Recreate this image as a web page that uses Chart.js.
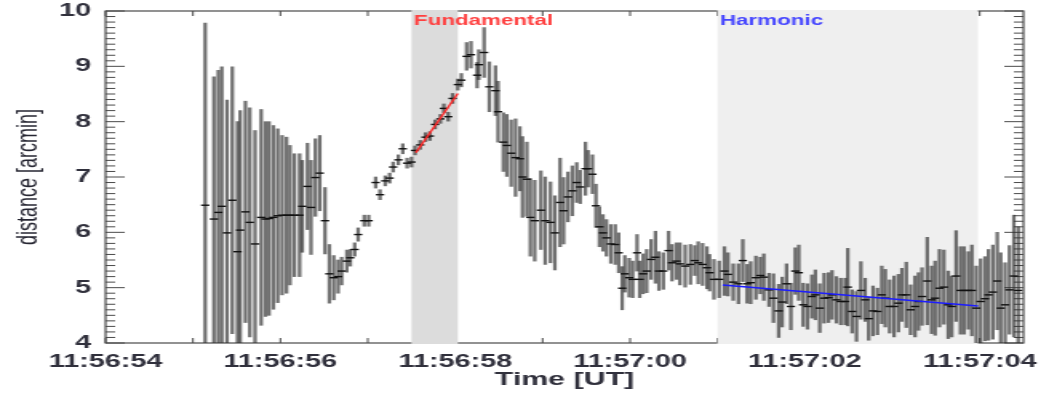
<!DOCTYPE html>
<html>
<head>
<meta charset="utf-8">
<title>distance vs time</title>
<script src="https://cdn.jsdelivr.net/npm/chart.js@4.4.1/dist/chart.umd.min.js"></script>
<style>
  html, body { margin: 0; padding: 0; background: #fff; }
  /* the figure is drawn narrow and stretched sideways, like the original */
  #chart { display: block; width: 1041px !important; height: 393px !important; }
</style>
</head>
<body>
<canvas id="chart" width="651" height="393" style="width:1041px;height:393px"></canvas>
<script>
// time in seconds after 11:56:00 UT
var timeSec = [
    55.14, 55.24, 55.29, 55.33, 55.39, 55.45, 55.51, 55.54, 55.60, 55.65,
    55.71, 55.78, 55.83, 55.87, 55.92, 55.97, 56.02, 56.07, 56.11, 56.16,
    56.22, 56.25, 56.31, 56.35, 56.40, 56.45, 56.51, 56.56, 56.61, 56.66,
    56.70, 56.76, 56.80, 56.85, 56.89, 56.96, 57.01, 57.09, 57.14, 57.20,
    57.25, 57.29, 57.35, 57.40, 57.45, 57.50, 57.54, 57.60, 57.66, 57.71,
    57.77, 57.83, 57.87, 57.92, 57.97, 58.03, 58.07, 58.13, 58.18, 58.25,
    58.27, 58.33, 58.39, 58.46, 58.49, 58.55, 58.59, 58.64, 58.69, 58.74,
    58.77, 58.82, 58.86, 58.91, 58.98, 59.03, 59.09, 59.14, 59.20, 59.24,
    59.29, 59.34, 59.39, 59.43, 59.49, 59.52, 59.57, 59.61, 59.65, 59.69,
    59.73, 59.78, 59.83, 59.87, 59.91, 59.94, 59.99, 60.03, 60.08, 60.11,
    60.15, 60.19, 60.24, 60.29, 60.33, 60.38, 60.44, 60.48, 60.53, 60.57,
    60.63, 60.69, 60.74, 60.78, 60.83, 60.88, 60.91, 60.96, 61.02, 61.08,
    61.12, 61.18, 61.24, 61.29, 61.34, 61.38, 61.44, 61.49, 61.53, 61.59,
    61.64, 61.70, 61.74, 61.79, 61.84, 61.89, 61.93, 61.98, 62.03, 62.08,
    62.12, 62.17, 62.22, 62.27, 62.31, 62.36, 62.41, 62.46, 62.49, 62.54,
    62.59, 62.64, 62.69, 62.73, 62.78, 62.83, 62.88, 62.92, 62.97, 63.02,
    63.07, 63.11, 63.16, 63.21, 63.26, 63.30, 63.34, 63.40, 63.45, 63.49,
    63.54, 63.59, 63.64, 63.68, 63.73, 63.78, 63.82, 63.87, 63.91, 63.96,
    64.01, 64.06, 64.10, 64.15, 64.20, 64.24, 64.29, 64.34, 64.39, 64.44
];

// distance [arcmin]
var distance = [
    6.49, 6.24, 6.36, 6.47, 5.99, 6.58, 5.65, 6.04, 6.37, 6.18,
    5.79, 6.27, 6.24, 6.25, 6.27, 6.30, 6.31, 6.31, 6.31, 6.31,
    6.31, 6.47, 6.83, 6.45, 6.99, 7.07, 6.21, 5.25, 5.18, 5.20,
    5.30, 5.48, 5.54, 5.69, 5.96, 6.21, 6.21, 6.90, 6.68, 6.93,
    6.98, 7.18, 7.31, 7.51, 7.25, 7.27, 7.48, 7.58, 7.72, 7.74,
    7.95, 8.05, 8.24, 8.09, 8.42, 8.67, 8.75, 9.18, 9.21, 8.84,
    9.03, 9.25, 8.63, 8.56, 8.18, 7.63, 7.57, 7.43, 7.35, 7.33,
    7.00, 6.96, 6.27, 6.21, 6.40, 6.21, 6.18, 5.99, 6.54, 6.39,
    6.64, 6.75, 6.90, 6.82, 7.15, 7.15, 7.05, 6.48, 6.10, 5.99,
    5.90, 5.79, 5.78, 5.63, 4.99, 5.25, 5.18, 5.15, 5.63, 5.15,
    5.25, 5.30, 5.51, 5.55, 5.30, 5.30, 5.67, 5.45, 5.48, 5.43,
    5.39, 5.42, 5.49, 5.45, 5.42, 5.36, 5.27, 5.15, 5.15, 5.30,
    5.24, 5.10, 5.07, 5.49, 5.07, 5.09, 5.18, 5.22, 5.19, 4.96,
    4.81, 4.58, 4.74, 5.07, 4.66, 5.30, 5.27, 4.69, 4.66, 4.84,
    4.87, 4.63, 4.81, 4.82, 4.87, 4.78, 4.75, 4.75, 5.01, 4.57,
    4.48, 4.95, 4.78, 4.44, 4.58, 4.57, 4.87, 4.81, 4.66, 4.66,
    4.72, 4.87, 4.87, 4.60, 4.66, 4.75, 4.84, 5.12, 4.78, 4.81,
    4.99, 5.01, 4.69, 4.66, 5.21, 4.95, 4.95, 4.95, 4.95, 4.63,
    4.75, 4.80, 4.87, 4.92, 5.12, 4.63, 4.69, 4.96, 5.21, 4.95
];

// one-sigma error on distance
var distErr = [
    3.29, 2.57, 2.57, 2.52, 2.40, 2.41, 2.35, 2.16, 2.00, 2.07,
    2.05, 1.95, 1.76, 1.75, 1.66, 1.57, 1.44, 1.41, 1.26, 1.11,
    1.11, 0.83, 0.78, 0.85, 0.70, 0.68, 0.60, 0.53, 0.40, 0.30,
    0.25, 0.20, 0.15, 0.12, 0.12, 0.10, 0.10, 0.10, 0.09, 0.09,
    0.09, 0.09, 0.09, 0.09, 0.09, 0.09, 0.08, 0.08, 0.08, 0.08,
    0.08, 0.08, 0.08, 0.08, 0.09, 0.10, 0.12, 0.25, 0.24, 0.23,
    0.27, 0.45, 0.45, 0.45, 0.55, 0.53, 0.56, 0.60, 0.70, 0.58,
    0.73, 0.67, 0.70, 0.73, 0.71, 0.79, 0.73, 0.67, 0.80, 0.60,
    0.45, 0.45, 0.36, 0.30, 0.48, 0.33, 0.35, 0.39, 0.36, 0.33,
    0.33, 0.35, 0.36, 0.36, 0.39, 0.33, 0.35, 0.33, 0.33, 0.33,
    0.36, 0.39, 0.36, 0.47, 0.35, 0.33, 0.35, 0.33, 0.33, 0.38,
    0.38, 0.36, 0.27, 0.38, 0.38, 0.38, 0.33, 0.36, 0.33, 0.44,
    0.39, 0.33, 0.36, 0.38, 0.35, 0.38, 0.39, 0.33, 0.42, 0.30,
    0.44, 0.48, 0.45, 0.36, 0.42, 0.42, 0.50, 0.39, 0.41, 0.39,
    0.45, 0.44, 0.45, 0.45, 0.44, 0.42, 0.42, 0.42, 0.70, 0.39,
    0.45, 0.52, 0.39, 0.39, 0.45, 0.42, 0.52, 0.52, 0.48, 0.55,
    0.52, 0.48, 0.59, 0.45, 0.55, 0.52, 0.52, 0.79, 0.61, 0.67,
    0.70, 0.67, 0.61, 0.55, 0.82, 0.79, 0.79, 0.70, 0.82, 0.76,
    0.77, 0.76, 0.82, 0.85, 0.88, 1.00, 0.76, 0.80, 1.10, 1.15
];

// linear fits over the two emission intervals
var fundFitT = [57.55, 58.03];
var fundFitD = [7.44, 8.51];
var harmFitT = [61.06, 63.98];
var harmFitD = [5.05, 4.67];

// shaded intervals
var bandNames = ['Fundamental', 'Harmonic'];
var bandStart = [57.50, 61.00];
var bandEnd = [58.03, 63.98];

var xTickValues = [54, 56, 58, 60, 62, 64];
var xTickLabels = ['11:56:54', '11:56:56', '11:56:58', '11:57:00', '11:57:02', '11:57:04'];
var yTickValues = [4, 5, 6, 7, 8, 9, 10];
var yTickLabels = ['4', '5', '6', '7', '8', '9', '10'];

var FONT = "'Liberation Sans', Arial, Helvetica, sans-serif";
var TEXT = '#30303c';
var bandFill = ['#dcdcdc', '#efefef'];
var bandInk = ['#ff4040', '#4646ff'];

var errBars = timeSec.map(function(t, i) {
    return { x: t, y: [distance[i] - distErr[i], distance[i] + distErr[i]] };
});
var points = timeSec.map(function(t, i) { return { x: t, y: distance[i] }; });
var fundLine = fundFitT.map(function(t, i) { return { x: t, y: fundFitD[i] }; });
var harmLine = harmFitT.map(function(t, i) { return { x: t, y: harmFitD[i] }; });

// frame, inward ticks (IDL style) and the shaded intervals
var axisDecor = {
    id: 'axisDecor',
    beforeDatasetsDraw: function(chart) {
        var ctx = chart.ctx, a = chart.chartArea;
        var xs = chart.scales.x, ys = chart.scales.y;
        ctx.save();
        ctx.strokeStyle = '#4a4a4a';
        ctx.lineWidth = 1.2;
        ctx.strokeRect(a.left, a.top, a.right - a.left, a.bottom - a.top);

        ctx.lineWidth = 1;
        ctx.beginPath();
        for (var v = 40; v <= 100; v++) {
            var py = ys.getPixelForValue(v / 10);
            var len = (v % 10 === 0) ? 12 : 6;
            ctx.moveTo(a.left, py); ctx.lineTo(a.left + len, py);
            ctx.moveTo(a.right, py); ctx.lineTo(a.right - len, py);
        }
        for (var s = 54; s <= 64; s++) {
            var px = xs.getPixelForValue(s);
            ctx.moveTo(px, a.top); ctx.lineTo(px, a.top + 5);
            ctx.moveTo(px, a.bottom); ctx.lineTo(px, a.bottom - 5);
        }
        ctx.stroke();

        for (var i = 0; i < bandNames.length; i++) {
            var x0 = xs.getPixelForValue(bandStart[i]);
            var x1 = xs.getPixelForValue(bandEnd[i]);
            ctx.fillStyle = bandFill[i];
            ctx.fillRect(x0, a.top - 1, x1 - x0, a.bottom - a.top + 2);
        }
        ctx.restore();
    },
    afterDatasetsDraw: function(chart) {
        var ctx = chart.ctx, a = chart.chartArea, xs = chart.scales.x;
        ctx.save();
        ctx.font = 'bold 14px ' + FONT;
        ctx.textBaseline = 'middle';
        ctx.textAlign = 'left';
        for (var i = 0; i < bandNames.length; i++) {
            ctx.fillStyle = bandInk[i];
            ctx.fillText(bandNames[i], xs.getPixelForValue(bandStart[i]) + 1.5, a.top + 10);
        }
        ctx.restore();
    }
};

new Chart(document.getElementById('chart'), {
    type: 'bar',
    data: {
        datasets: [
            {
                type: 'line', data: fundLine, borderColor: '#ff2a2a', borderWidth: 1.4,
                pointRadius: 0, fill: false, order: 1
            },
            {
                type: 'line', data: harmLine, borderColor: '#1c1cff', borderWidth: 1.5,
                pointRadius: 0, fill: false, order: 1
            },
            {
                type: 'line', data: points, showLine: false, pointStyle: 'line',
                pointRadius: 2.6, borderColor: '#111', backgroundColor: '#111',
                pointBorderWidth: 1.4, order: 2
            },
            {
                type: 'bar', data: errBars, backgroundColor: 'rgba(45,45,45,0.68)',
                borderWidth: 0, barThickness: 1.6, order: 3
            }
        ]
    },
    options: {
        responsive: false,
        devicePixelRatio: 1,
        animation: false,
        events: [],
        layout: { padding: { top: 11, right: 11, left: 0, bottom: 0 } },
        plugins: { legend: { display: false }, tooltip: { enabled: false } },
        scales: {
            x: {
                type: 'linear', min: 54, max: 64.5, offset: false,
                afterBuildTicks: function(s) {
                    s.ticks = xTickValues.map(function(v) { return { value: v }; });
                },
                afterFit: function(s) {
                    s.height = 50;
                    s.paddingLeft = 0;
                    s.paddingRight = 0;
                },
                grid: { display: false, drawTicks: false },
                border: { display: false },
                ticks: {
                    autoSkip: false, maxRotation: 0, padding: 8, color: TEXT,
                    font: { family: FONT, size: 18, weight: 'bold' },
                    callback: function(v) { return xTickLabels[xTickValues.indexOf(v)]; }
                },
                title: {
                    display: true, text: 'Time [UT]', color: TEXT,
                    font: { family: FONT, size: 19, weight: 'bold' },
                    padding: { top: 0, bottom: 2 }
                }
            },
            y: {
                type: 'linear', min: 4, max: 10,
                afterBuildTicks: function(s) {
                    s.ticks = yTickValues.map(function(v) { return { value: v }; });
                },
                afterFit: function(s) {
                    s.width = 66;
                    s.paddingTop = 0;
                    s.paddingBottom = 0;
                },
                grid: { display: false, drawTicks: false },
                border: { display: false },
                ticks: {
                    padding: 9, color: TEXT,
                    font: { family: FONT, size: 18, weight: 'bold' },
                    callback: function(v) { return yTickLabels[yTickValues.indexOf(v)]; }
                },
                title: {
                    display: true, text: 'distance [arcmin]', color: '#262632',
                    font: { family: FONT, size: 18 },
                    padding: { top: 7, bottom: 0 }
                }
            }
        }
    },
    plugins: [axisDecor]
});
</script>
</body>
</html>
